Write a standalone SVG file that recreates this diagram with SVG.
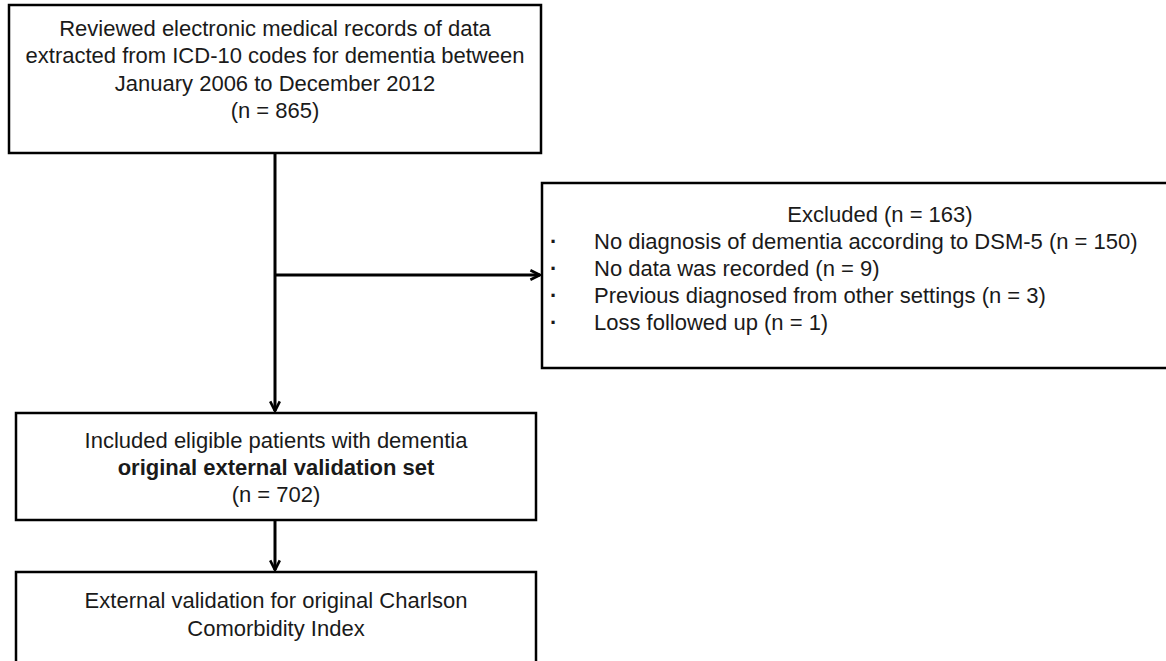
<svg xmlns="http://www.w3.org/2000/svg" width="1166" height="661" viewBox="0 0 1166 661">
<style>
.box{fill:#fff;stroke:#000;stroke-width:2.5}
.t{font-family:"Liberation Sans",Arial,sans-serif;font-size:22px;fill:#1a1a1a}
.c{text-anchor:middle}
.b{font-weight:bold}
.dot{fill:#1a1a1a}
.ln{fill:none;stroke:#000;stroke-width:3}
</style>
<defs>
<marker id="arr" viewBox="0 0 10 10" refX="9" refY="5" markerWidth="4" markerHeight="4" orient="auto" markerUnits="strokeWidth">
<path d="M1,1 L9,5 L1,9" fill="none" stroke="#000" stroke-width="2.2"/>
</marker>
</defs>
<rect width="1166" height="661" fill="#fff"/>
<g id="connectors">
<path class="ln" d="M275,153 V411" marker-end="url(#arr)"/>
<path class="ln" d="M275,275 H540" marker-end="url(#arr)"/>
<path class="ln" d="M275,520 V570" marker-end="url(#arr)"/>
</g>
<g id="node-reviewed">
<rect class="box" x="9" y="5" width="532" height="148"/>
<text class="t c" x="275" y="36">Reviewed electronic medical records of data</text>
<text class="t c" x="275" y="63">extracted from ICD-10 codes for dementia between</text>
<text class="t c" x="275" y="91">January 2006 to December 2012</text>
<text class="t c" x="275" y="118">(n = 865)</text>
</g>
<g id="node-excluded">
<rect class="box" x="542" y="183" width="640" height="185"/>
<text class="t c" x="880" y="222">Excluded (n = 163)</text>
<text class="t b" x="550" y="249">·</text><text class="t" x="594" y="249">No diagnosis of dementia according to DSM-5 (n = 150)</text>
<text class="t b" x="550" y="276">·</text><text class="t" x="594" y="276">No data was recorded (n = 9)</text>
<text class="t b" x="550" y="303">·</text><text class="t" x="594" y="303">Previous diagnosed from other settings (n = 3)</text>
<text class="t b" x="550" y="330">·</text><text class="t" x="594" y="330">Loss followed up (n = 1)</text>
</g>
<g id="node-included">
<rect class="box" x="16" y="413" width="520" height="107"/>
<text class="t c" x="276" y="448">Included eligible patients with dementia</text>
<text class="t c b" x="276" y="475">original external validation set</text>
<text class="t c" x="276" y="502">(n = 702)</text>
</g>
<g id="node-validation">
<rect class="box" x="16" y="572" width="520" height="100"/>
<text class="t c" x="276" y="608">External validation for original Charlson</text>
<text class="t c" x="276" y="636">Comorbidity Index</text>
</g>
</svg>
